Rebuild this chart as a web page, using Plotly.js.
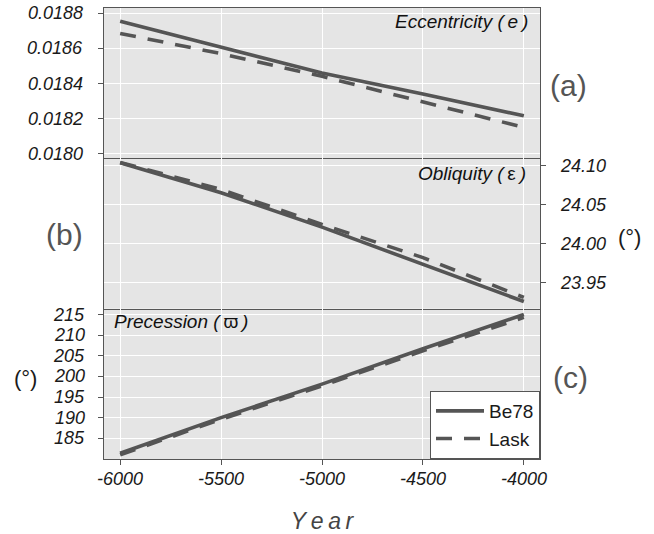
<!DOCTYPE html>
<html>
<head>
<meta charset="utf-8">
<script src="https://cdn.plot.ly/plotly-3.0.1.min.js"></script>
<style>
  html, body { margin: 0; padding: 0; background: #ffffff; }
  #chart { width: 654px; height: 534px; }
</style>
</head>
<body>
<div id="chart"></div>
<script>
// Orbital elements over time, two solutions (Berger 1978 vs Laskar)
const years = [-6000, -5500, -5000, -4500, -4000];

const eccBe78 = [0.018754, 0.018608, 0.018460, 0.018340, 0.018216];
const eccLask = [0.018685, 0.018570, 0.018441, 0.018297, 0.018150];

const oblBe78 = [24.1035, 24.0651, 24.0211, 23.9734, 23.9257];
const oblLask = [24.1040, 24.0693, 24.0246, 23.9820, 23.9310];

const precBe78 = [181.35, 190.0, 198.13, 206.7, 215.0];
const precLask = [181.0, 189.6, 197.7, 206.2, 214.3];

const seriesNames = ['Be78', 'Lask'];
const xTicks = [-6000, -5500, -5000, -4500, -4000];
const xTickText = ['-6000', '-5500', '-5000', '-4500', '-4000'];
const eccTicks = [0.0180, 0.0182, 0.0184, 0.0186, 0.0188];
const eccTickText = ['0.0180', '0.0182', '0.0184', '0.0186', '0.0188'];
const oblTicks = [23.95, 24.00, 24.05, 24.10];
const oblTickText = ['23.95', '24.00', '24.05', '24.10'];
const precTicks = [185, 190, 195, 200, 205, 210, 215];
const precTickText = ['185', '190', '195', '200', '205', '210', '215'];

const X_RANGE = [-6080, -3920];
const ECC_RANGE = [0.017973, 0.01883];
const OBL_RANGE = [23.9168, 24.109];
const PREC_RANGE = [179.97, 216.46];

const lineColor = '#555555';
const solid = { color: lineColor, width: 3.6 };
const dashed = { color: lineColor, width: 3.6, dash: '16px,12px' };

function trace(y, name, line, xa, ya, legend) {
  return {
    x: years, y: y, name: name, type: 'scatter', mode: 'lines',
    line: line, xaxis: xa, yaxis: ya, showlegend: legend, hoverinfo: 'skip'
  };
}

const data = [
  trace(eccBe78, seriesNames[0], solid, 'x', 'y', false),
  trace(eccLask, seriesNames[1], dashed, 'x', 'y', false),
  trace(oblBe78, seriesNames[0], solid, 'x2', 'y2', false),
  trace(oblLask, seriesNames[1], dashed, 'x2', 'y2', false),
  trace(precBe78, seriesNames[0], solid, 'x3', 'y3', true),
  trace(precLask, seriesNames[1], dashed, 'x3', 'y3', true)
];

const FAMILY = 'Liberation Sans, Arial, sans-serif';
const tickFont = { family: FAMILY, size: 18, color: '#1a1a1a', style: 'italic' };
const border = '#555555';

// panel frames: grid, border and short tick marks
function xAxis(anchor, showTicks, mirror) {
  const ax = {
    anchor: anchor, domain: [0, 1], range: X_RANGE, tickvals: xTicks,
    showgrid: true, gridcolor: '#ffffff', gridwidth: 1,
    zeroline: false, showline: true, linecolor: border, linewidth: 1, mirror: mirror,
    ticks: showTicks ? 'outside' : '', ticklen: 5, tickcolor: border,
    showticklabels: false
  };
  if (anchor !== 'y') ax.matches = 'x';
  return ax;
}

function yAxis(anchor, domain, range, vals, side) {
  return {
    anchor: anchor, domain: domain, range: range, side: side, tickvals: vals,
    showgrid: true, gridcolor: '#ffffff', gridwidth: 1,
    zeroline: false, showline: true, linecolor: border, linewidth: 1, mirror: true,
    ticks: 'outside', ticklen: 5, tickcolor: border, showticklabels: false
  };
}

const xAx3 = xAxis('y3', true, false);
xAx3.title = {
  text: 'Y\u2009e\u2009a\u2009r',
  font: { family: FAMILY, size: 23, color: '#444444', style: 'italic' },
  standoff: 48
};

// tick labels, placed on each axis scale with a wider gap than the default
const PLOT_W = 436, PLOT_H = 451;
function yTickLabels(vals, text, yref, xPix, anchor) {
  return vals.map((v, i) => ({
    text: text[i], xref: 'paper', yref: yref, x: xPix / PLOT_W, y: v,
    xanchor: anchor, yanchor: 'middle', showarrow: false, font: tickFont
  }));
}
function xTickLabels(vals, text, yPix) {
  return vals.map((v, i) => ({
    text: text[i], xref: 'x3', yref: 'paper', x: v, y: -yPix / PLOT_H,
    xanchor: 'center', yanchor: 'middle', showarrow: false, font: tickFont
  }));
}

const annFont = (size, color, italic) => ({
  family: FAMILY, size: size, color: color, style: italic ? 'italic' : 'normal'
});

function note(text, x, y, xanchor, font) {
  return { text: text, xref: 'paper', yref: 'paper', x: x, y: y,
           xanchor: xanchor, yanchor: 'middle', showarrow: false, font: font };
}

const upright = s => '<span style="font-style:normal">' + s + '</span>';

const annotations = [].concat(
  yTickLabels(eccTicks, eccTickText, 'y', -19, 'right'),
  yTickLabels(oblTicks, oblTickText, 'y2', PLOT_W + 18, 'left'),
  yTickLabels(precTicks, precTickText, 'y3', -17, 'right'),
  xTickLabels(xTicks, xTickText, 20),
  [
    note('Eccentricity (\u2009e\u2009)', 0.977, 0.9696, 'right', annFont(19, '#111111', true)),
    note('Obliquity (\u2009' + upright('\u03b5') + '\u2009)', 0.9725, 0.634, 'right', annFont(19, '#111111', true)),
    note('Precession (\u2009' + upright('\u03d6') + '\u2009)', 0.0183, 0.3038, 'left', annFont(19, '#111111', true)),
    note('(a)', 1.0665, 0.829, 'center', annFont(30, '#555555', false)),
    note('(b)', -0.0917, 0.4967, 'center', annFont(30, '#555555', false)),
    note('(c)', 1.069, 0.1818, 'center', annFont(30, '#555555', false)),
    note('(\u00b0)', 1.2064, 0.4922, 'center', annFont(22, '#1a1a1a', false)),
    note('(\u00b0)', -0.1789, 0.1796, 'center', annFont(22, '#1a1a1a', false))
  ]
);

const layout = {
  width: 654, height: 534,
  margin: { l: 104, r: 114, t: 8, b: 75 },
  paper_bgcolor: '#ffffff', plot_bgcolor: '#e5e5e5',
  xaxis: xAxis('y', false, true),
  xaxis2: xAxis('y2', false, false),
  xaxis3: xAx3,
  yaxis: yAxis('x', [0.6663, 1], ECC_RANGE, eccTicks, 'left'),
  yaxis2: yAxis('x2', [0.3337, 0.6663], OBL_RANGE, oblTicks, 'right'),
  yaxis3: yAxis('x3', [0, 0.3337], PREC_RANGE, precTicks, 'left'),
  showlegend: true,
  legend: {
    x: 1, xanchor: 'right', y: 0, yanchor: 'bottom',
    bgcolor: '#ffffff', bordercolor: border, borderwidth: 1,
    font: { family: FAMILY, size: 19, color: '#1a1a1a' },
    itemwidth: 48, tracegroupgap: 0
  },
  annotations: annotations
};

Plotly.newPlot('chart', data, layout, { staticPlot: true, displayModeBar: false });
</script>
</body>
</html>
